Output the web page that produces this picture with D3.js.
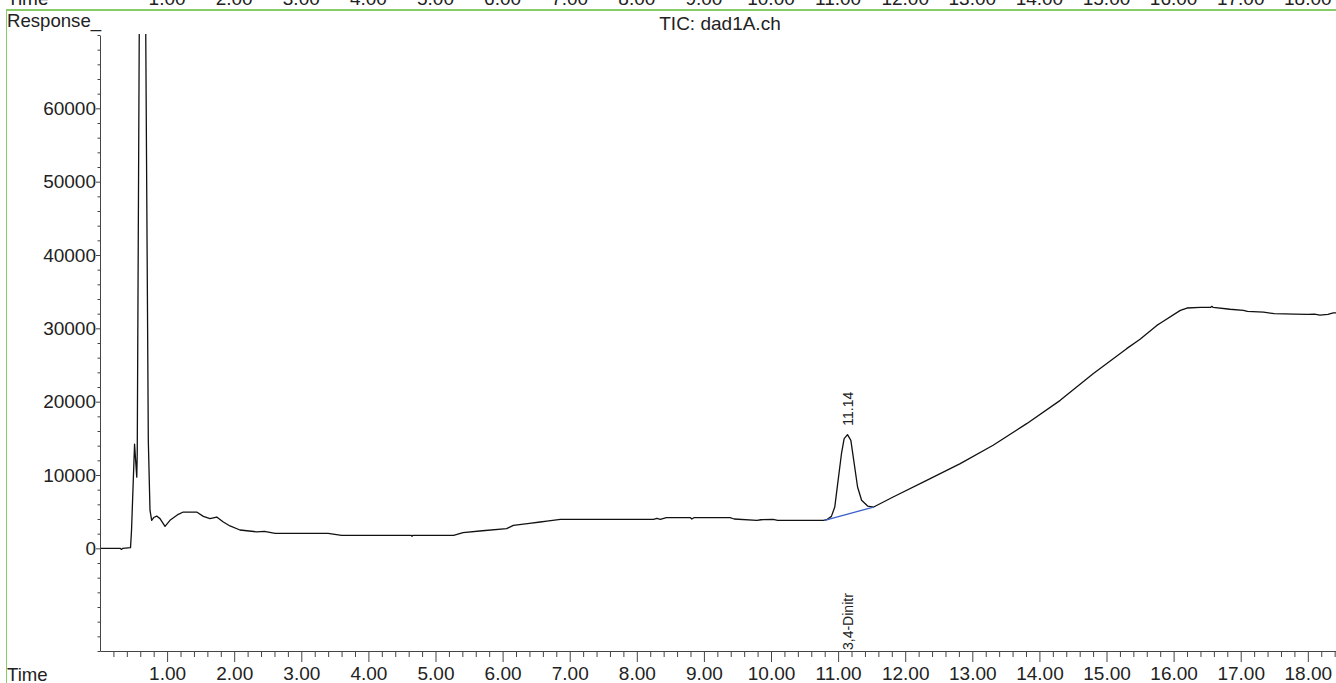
<!DOCTYPE html>
<html>
<head>
<meta charset="utf-8">
<script src="https://cdn.jsdelivr.net/npm/d3@7/dist/d3.min.js"></script>
<style>
  html, body { margin: 0; padding: 0; background: #fff; }
  svg { display: block; }
  text { font-family: "Liberation Sans", Arial, sans-serif; fill: #222; }
</style>
</head>
<body>
<svg id="chart" width="1336" height="683"></svg>
<script>
// Retention time (min) and detector response of the TIC trace
const time = [
  0, 0.30, 0.32, 0.34, 0.455, 0.47, 0.515, 0.548, 0.555, 0.59, 0.63, 0.675, 0.72, 0.745, 0.77,
  0.80, 0.845, 0.894, 0.969, 1.043, 1.167, 1.241, 1.441, 1.54, 1.639, 1.739, 1.838, 1.937,
  2.086, 2.335, 2.45, 2.61, 3.40, 3.60, 4.64, 4.65, 4.66, 5.27, 5.41, 5.70, 6.06, 6.16, 6.40,
  6.56, 6.66, 6.86, 8.25, 8.30, 8.35, 8.44, 8.80, 8.82, 8.85, 9.39, 9.45, 9.79, 9.85, 10.03,
  10.10, 10.78, 10.83, 10.90, 10.95, 11.00, 11.05, 11.09, 11.14, 11.19, 11.24, 11.29, 11.35,
  11.44, 11.53, 11.82, 12.32, 12.82, 13.31, 13.81, 14.31, 14.80, 15.30, 15.50, 15.75, 15.80,
  16.10, 16.20, 16.40, 16.55, 16.57, 16.59, 16.84, 17.04, 17.10, 17.34, 17.50, 17.80, 18.00,
  18.10, 18.18, 18.30, 18.38, 18.42
];
const response = [
  0, 0, -150, 0, 100, 2500, 14200, 9700, 13000, 80000, 250000, 80000, 14700, 5200, 3820,
  4200, 4400, 4050, 3000, 3820, 4640, 4950, 4950, 4360, 4050, 4270, 3590, 3050,
  2500, 2250, 2300, 2050, 2050, 1770, 1770, 1650, 1770, 1770, 2140, 2400, 2680, 3140, 3400,
  3590, 3720, 3950, 3950, 4100, 3950, 4180, 4180, 4000, 4180, 4180, 4000, 3820, 3900, 3950,
  3800, 3820, 3900, 4360, 5630, 9270, 12900, 14950, 15500, 14730, 11550, 8360, 6550,
  5770, 5630, 7000, 9270, 11550, 14050, 17000, 20180, 23820, 27230, 28500, 30400, 30700,
  32450, 32770, 32850, 32850, 33000, 32850, 32600, 32450, 32300, 32200, 32000, 31950, 31900,
  31950, 31800, 31900, 32100, 32100
];

// Integration baseline under the 11.14 min peak
const baseTime = [10.80, 11.53];
const baseResponse = [3820, 5630];

// Peak annotations
const peakTime = [11.14];
const peakApex = [15500];
const peakLabel = ["11.14"];
const peakName = ["3,4-Dinitr"];

// Axis ticks
const yTickValues = [0, 10000, 20000, 30000, 40000, 50000, 60000];
const yMinorValues = d3.range(-14000, 70001, 2000).filter(v => !yTickValues.includes(v));
const xTickValues = d3.range(1, 19);
const xMinorValues = d3.range(1, 93).map(i => +(i * 0.2).toFixed(1)).filter(v => v % 1 !== 0);

const svg = d3.select("#chart");
const W = 1336, H = 683;
const plotLeft = 100, plotBottom = 651, plotTop = 35;

const x = d3.scaleLinear().domain([0, 18.42]).range([plotLeft, W]);
const y = d3.scaleLinear().domain([-14000, 70000]).range([plotBottom, plotTop]);

// Frame remnants of the panel above: green separator and left border
svg.append("line").attr("x1", 6).attr("x2", W).attr("y1", 10).attr("y2", 10)
  .attr("stroke", "#86cc68").attr("stroke-width", 2);
svg.append("line").attr("x1", 6.5).attr("x2", 6.5).attr("y1", 10).attr("y2", H)
  .attr("stroke", "#86cc68").attr("stroke-width", 1);

// Time labels of the panel above, cut by the window top
svg.append("text").attr("x", 7).attr("y", 5).attr("font-size", 19).text("Time");
svg.append("g").selectAll("text").data(xTickValues).join("text")
  .attr("x", d => x(d)).attr("y", 5).attr("text-anchor", "middle")
  .attr("font-size", 19).text(d => d.toFixed(2));

// Titles
svg.append("text").attr("x", 7).attr("y", 27).attr("font-size", 18.6).text("Response_");
svg.append("text").attr("x", 720).attr("y", 30).attr("text-anchor", "middle")
  .attr("font-size", 19).text("TIC: dad1A.ch");

// Y axis
const axisColor = "#444";
const yAxis = svg.append("g").attr("transform", `translate(${plotLeft},0)`)
  .call(d3.axisLeft(y).tickValues(yTickValues).tickSize(4).tickSizeOuter(0).tickPadding(0)
    .tickFormat(d3.format("d")));
yAxis.select(".domain").attr("stroke", axisColor);
yAxis.selectAll(".tick line").attr("stroke", axisColor);
yAxis.selectAll(".tick text").attr("font-size", 19).attr("fill", "#222")
  .attr("font-family", "Liberation Sans, Arial, sans-serif");
svg.append("g").attr("transform", `translate(${plotLeft},0)`)
  .call(d3.axisLeft(y).tickValues(yMinorValues).tickSize(2.5).tickSizeOuter(0).tickFormat(""))
  .call(g => g.select(".domain").remove())
  .selectAll(".tick line").attr("stroke", axisColor);

// X axis
const xAxis = svg.append("g").attr("transform", `translate(0,${plotBottom})`)
  .call(d3.axisBottom(x).tickValues(xTickValues).tickSize(11).tickSizeOuter(0).tickPadding(5)
    .tickFormat(d => d.toFixed(2)));
xAxis.select(".domain").attr("stroke", axisColor);
xAxis.selectAll(".tick line").attr("stroke", axisColor);
xAxis.selectAll(".tick text").attr("font-size", 19).attr("fill", "#222")
  .attr("font-family", "Liberation Sans, Arial, sans-serif");
svg.append("g").attr("transform", `translate(0,${plotBottom})`)
  .call(d3.axisBottom(x).tickValues(xMinorValues).tickSize(6).tickSizeOuter(0).tickFormat(""))
  .call(g => g.select(".domain").remove())
  .selectAll(".tick line").attr("stroke", axisColor);
svg.append("text").attr("x", 7).attr("y", 681).attr("font-size", 18.6).text("Time");

// Plot area clip
svg.append("clipPath").attr("id", "plot-clip").append("rect")
  .attr("x", plotLeft + 1).attr("y", plotTop - 1).attr("width", W - plotLeft).attr("height", plotBottom - plotTop);

const plot = svg.append("g").attr("clip-path", "url(#plot-clip)");
const trace = time.map((t, i) => [t, response[i]]);
const line = d3.line().x(d => x(d[0])).y(d => y(d[1]));

plot.append("path").datum(trace).attr("d", line)
  .attr("fill", "none").attr("stroke", "#111").attr("stroke-width", 1.3)
  .attr("stroke-linejoin", "round");

plot.append("path").datum(baseTime.map((t, i) => [t, baseResponse[i]])).attr("d", line)
  .attr("fill", "none").attr("stroke", "#3a5fc8").attr("stroke-width", 1.3);

// Peak retention time above the apex, compound name at the axis
peakTime.forEach((t, i) => {
  svg.append("text")
    .attr("transform", `translate(${x(t) + 5},${y(peakApex[i]) - 9}) rotate(-90)`)
    .attr("font-size", 14).text(peakLabel[i]);
  svg.append("text")
    .attr("transform", `translate(${x(t) + 5},${plotBottom - 1}) rotate(-90)`)
    .attr("font-size", 14).text(peakName[i]);
});
</script>
</body>
</html>
